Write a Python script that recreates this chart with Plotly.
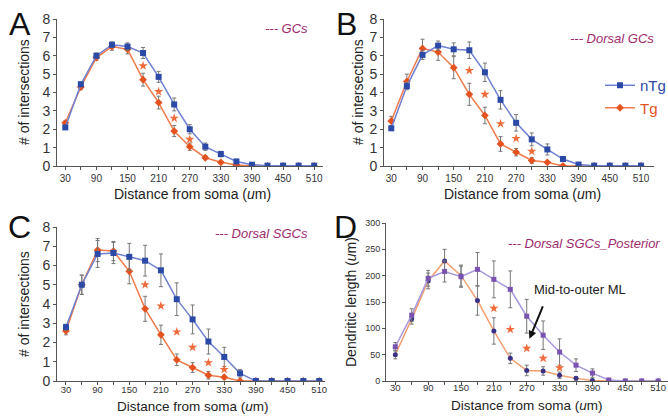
import plotly.graph_objects as go

distance = [30, 60, 90, 120, 150, 180, 210, 240, 270, 300, 330, 360, 390, 420, 450, 480, 510]
x_tick_labels = [30, 90, 150, 210, 270, 330, 390, 450, 510]

# Panel A - GCs
a_ntg = [2.1, 4.45, 6.0, 6.6, 6.5, 6.15, 4.85, 3.35, 2.0, 1.05, 0.65, 0.25, 0.07, 0.02, 0.02, 0.02, 0.02]
a_ntg_err = [0.1, 0.1, 0.15, 0.15, 0.2, 0.3, 0.3, 0.35, 0.25, 0.2, 0.15, 0.08, 0.03, 0, 0, 0, 0]
a_tg = [2.35, 4.3, 5.9, 6.5, 6.35, 4.7, 3.45, 1.9, 1.05, 0.45, 0.2, 0.05, 0.0, 0, 0, 0, 0]
a_tg_err = [0.1, 0.15, 0.15, 0.2, 0.25, 0.35, 0.35, 0.3, 0.2, 0.1, 0.05, 0.02, 0, 0, 0, 0, 0]
a_star_x = [180, 210, 240, 270]
a_star_y = [5.45, 4.05, 2.6, 1.45]

# Panel B - Dorsal GCs
b_ntg = [2.05, 4.35, 6.05, 6.55, 6.35, 6.3, 5.1, 3.6, 2.35, 1.45, 0.9, 0.38, 0.08, 0.02, 0.02, 0.02, 0.02]
b_ntg_err = [0.1, 0.2, 0.25, 0.25, 0.35, 0.45, 0.5, 0.5, 0.45, 0.35, 0.3, 0.1, 0.03, 0, 0, 0, 0]
b_tg = [2.45, 4.6, 6.4, 6.2, 5.35, 3.9, 2.75, 1.2, 0.75, 0.3, 0.2, 0.0, 0.0, 0, 0, 0, 0]
b_tg_err = [0.25, 0.4, 0.5, 0.45, 0.6, 0.6, 0.45, 0.4, 0.2, 0.15, 0.05, 0, 0, 0, 0, 0, 0]
b_star_x = [180, 210, 240, 270, 300]
b_star_y = [5.2, 3.9, 2.3, 1.5, 0.8]

# Panel C - Dorsal SGCs
c_ntg = [2.8, 5.0, 6.6, 6.65, 6.45, 6.25, 5.75, 4.25, 3.2, 2.05, 1.25, 0.4, 0.0, 0.0, 0.0, 0.0, 0.0]
c_ntg_err = [0.15, 0.5, 0.7, 0.55, 0.7, 0.8, 0.85, 0.85, 0.75, 0.65, 0.5, 0.2, 0, 0, 0, 0, 0]
c_tg = [2.6, 5.0, 6.8, 6.75, 5.7, 3.75, 2.4, 1.1, 0.7, 0.3, 0.2, 0.0, 0.0, 0, 0, 0, 0]
c_tg_err = [0.2, 0.5, 0.6, 0.5, 0.65, 0.65, 0.5, 0.3, 0.25, 0.2, 0.1, 0, 0, 0, 0, 0, 0]
c_star_x = [180, 210, 240, 270, 300, 330]
c_star_y = [5.0, 3.9, 2.55, 1.75, 0.95, 0.6]

# Panel D - Dorsal SGCs_Posterior (dendritic length)
d_ntg = [65, 125, 195, 208, 198, 212, 193, 174, 123, 87, 55, 30, 15, 2, 0, 0, 0]
d_ntg_err = [8, 12, 15, 20, 20, 32, 35, 35, 32, 27, 25, 12, 8, 0, 0, 0, 0]
d_tg = [50, 118, 190, 228, 200, 153, 95, 43, 20, 19, 11, 5, 1, 0, 0, 0, 0]
d_tg_err = [8, 10, 15, 22, 20, 28, 25, 10, 10, 8, 6, 3, 0, 0, 0, 0, 0]
d_star_x = [210, 240, 270, 300, 330]
d_star_y = [138, 98, 62, 43, 25]
d_arrow_tip = (275, 80)

W, H = 668, 416
FONT = "Liberation Sans, Arial, sans-serif"

BLUE_M = "#2b4aa8"
BLUE_L = "#6f80d2"
ORANGE_M = "#e4521f"
ORANGE_L = "#f07a4a"
STAR = "#f06a3a"
ERR = "#777777"
LABEL_C = "#a02a6c"


def px_x(p):
    return p / W


def px_y(p):
    return 1 - p / H


panels = [
    dict(key="", xd=(57, 323), yd=(19, 166), xr=[14, 527], yr=[0, 8], dt=1, yfs=14, xso=0, xfs=10,
         ntg=a_ntg, ntge=a_ntg_err, tg=a_tg, tge=a_tg_err, sx=a_star_x, sy=a_star_y),
    dict(key="2", xd=(384, 654), yd=(19, 166), xr=[16, 535], yr=[0, 8], dt=1, yfs=14, xso=0, xfs=10,
         ntg=b_ntg, ntge=b_ntg_err, tg=b_tg, tge=b_tg_err, sx=b_star_x, sy=b_star_y),
    dict(key="3", xd=(57, 325), yd=(227, 381), xr=[13, 521], yr=[0, 8], dt=1, yfs=14, xso=-3, xfs=9.5,
         ntg=c_ntg, ntge=c_ntg_err, tg=c_tg, tge=c_tg_err, sx=c_star_x, sy=c_star_y),
    dict(key="4", xd=(386, 668), yd=(223, 381), xr=[13, 528], yr=[0, 300], dt=50, yfs=9, xso=-5, xfs=9.5,
         ntg=d_ntg, ntge=d_ntg_err, tg=d_tg, tge=d_tg_err, sx=d_star_x, sy=d_star_y),
]

fig = go.Figure()
layout = {}

for i, p in enumerate(panels):
    k = p["key"]
    xa, ya = "x" + k, "y" + k
    is_d = i == 3
    ntg_line = "#a898dc" if is_d else BLUE_L
    ntg_mark = "#7a52b0" if is_d else BLUE_M
    tg_line = "#f4a070" if is_d else ORANGE_L
    tg_mark = "#3a3286" if is_d else ORANGE_M
    msize_n = 5 if is_d else 6
    msize_t = 5 if is_d else 6
    show_leg = i == 1

    fig.add_trace(go.Scatter(
        x=distance, y=p["tg"], mode="lines+markers", xaxis=xa, yaxis=ya,
        name="<span style='color:%s'>Tg</span>" % ORANGE_M, legendrank=2,
        showlegend=show_leg,
        line=dict(color=tg_line, width=1.5),
        marker=dict(symbol="circle" if is_d else "diamond", size=msize_t, color=tg_mark),
        error_y=dict(type="data", array=p["tge"], color=ERR, thickness=1, width=2),
    ))
    fig.add_trace(go.Scatter(
        x=distance, y=p["ntg"], mode="lines+markers", xaxis=xa, yaxis=ya,
        name="<span style='color:%s'>nTg</span>" % BLUE_M, legendrank=1,
        showlegend=show_leg,
        line=dict(color=ntg_line, width=1.5),
        marker=dict(symbol="square", size=msize_n, color=ntg_mark),
        error_y=dict(type="data", array=p["ntge"], color=ERR, thickness=1, width=2),
    ))
    fig.add_trace(go.Scatter(
        x=p["sx"], y=p["sy"], mode="markers", xaxis=xa, yaxis=ya, showlegend=False,
        marker=dict(symbol="star", size=7, color=STAR), hoverinfo="skip",
    ))

    axis_common = dict(showline=True, linecolor="#555555", linewidth=1, showgrid=False,
                       zeroline=False, ticks="outside", ticklen=3, tickcolor="#555555")
    layout["xaxis" + k] = dict(
        domain=[px_x(p["xd"][0]), px_x(p["xd"][1])], range=p["xr"], anchor=ya,
        tickvals=x_tick_labels, ticktext=[str(v) for v in x_tick_labels],
        tickfont=dict(size=p["xfs"], color="#333333", family=FONT),
        ticklabelstandoff=p["xso"],
        minor=dict(tickvals=distance, ticks="outside", ticklen=3, tickcolor="#555555"),
        **axis_common)
    layout["yaxis" + k] = dict(
        domain=[px_y(p["yd"][1]), px_y(p["yd"][0])], range=p["yr"], anchor=xa,
        dtick=p["dt"], tick0=0,
        tickfont=dict(size=p["yfs"], color="#333333", family=FONT),
        **axis_common)

annotations = []


def ann(text, x, y, size, color="#222222", italic=False, xanchor="center", yanchor="middle", angle=0):
    t = "<i>%s</i>" % text if italic else text
    annotations.append(dict(text=t, x=px_x(x), y=px_y(y), xref="paper", yref="paper",
                            showarrow=False, xanchor=xanchor, yanchor=yanchor, textangle=angle,
                            font=dict(size=size, color=color, family=FONT)))


# Panel letters
ann("A", 20, 24, 32, "#111111")
ann("B", 346, 24, 32, "#111111")
ann("C", 19, 227, 32, "#111111")
ann("D", 345, 227, 32, "#111111")

# Group labels
ann("--- GCs", 310, 29, 13, LABEL_C, italic=True, xanchor="right")
ann("--- Dorsal GCs", 656, 38, 13, LABEL_C, italic=True, xanchor="right")
ann("--- Dorsal SGCs", 310, 233, 13, LABEL_C, italic=True, xanchor="right")
ann("--- Dorsal SGCs_Posterior", 662, 243, 13, LABEL_C, italic=True, xanchor="right")

# Axis titles
xt = "Distance from soma (<i>u</i>m)"
ann(xt, 192, 194, 14)
ann(xt, 522, 194, 14)
ann(xt, 193, 406, 13.5)
ann(xt, 527, 405, 13.5)
ann("# of intersections", 24, 92, 14, angle=-90)
ann("# of intersections", 358, 92, 14, angle=-90)
ann("# of intersections", 24, 304, 14, angle=-90)
ann("Dendritic length (<i>u</i>m)", 351, 302, 14, angle=-90)

# Mid-to-outer ML annotation with arrow
ann("Mid-to-outer ML", 580, 289, 13)
annotations.append(dict(x=d_arrow_tip[0], y=d_arrow_tip[1], xref="x4", yref="y4", ax=14, ay=-34,
                        showarrow=True, arrowhead=2, arrowsize=0.8, arrowwidth=2,
                        arrowcolor="#111111", text=""))

fig.update_layout(
    width=W, height=H, margin=dict(l=0, r=0, t=0, b=0, autoexpand=False),
    paper_bgcolor="white", plot_bgcolor="white",
    font=dict(family=FONT, size=12, color="#222222"),
    annotations=annotations,
    legend=dict(x=px_x(600), y=px_y(69), xanchor="left", yanchor="top",
                font=dict(size=15, family=FONT), bgcolor="rgba(0,0,0,0)",
                tracegroupgap=0, itemwidth=30),
    **layout,
)

fig.write_html("out.html", config={"displayModeBar": False},
               post_script="document.body.style.margin='0';document.body.style.overflow='hidden';")
